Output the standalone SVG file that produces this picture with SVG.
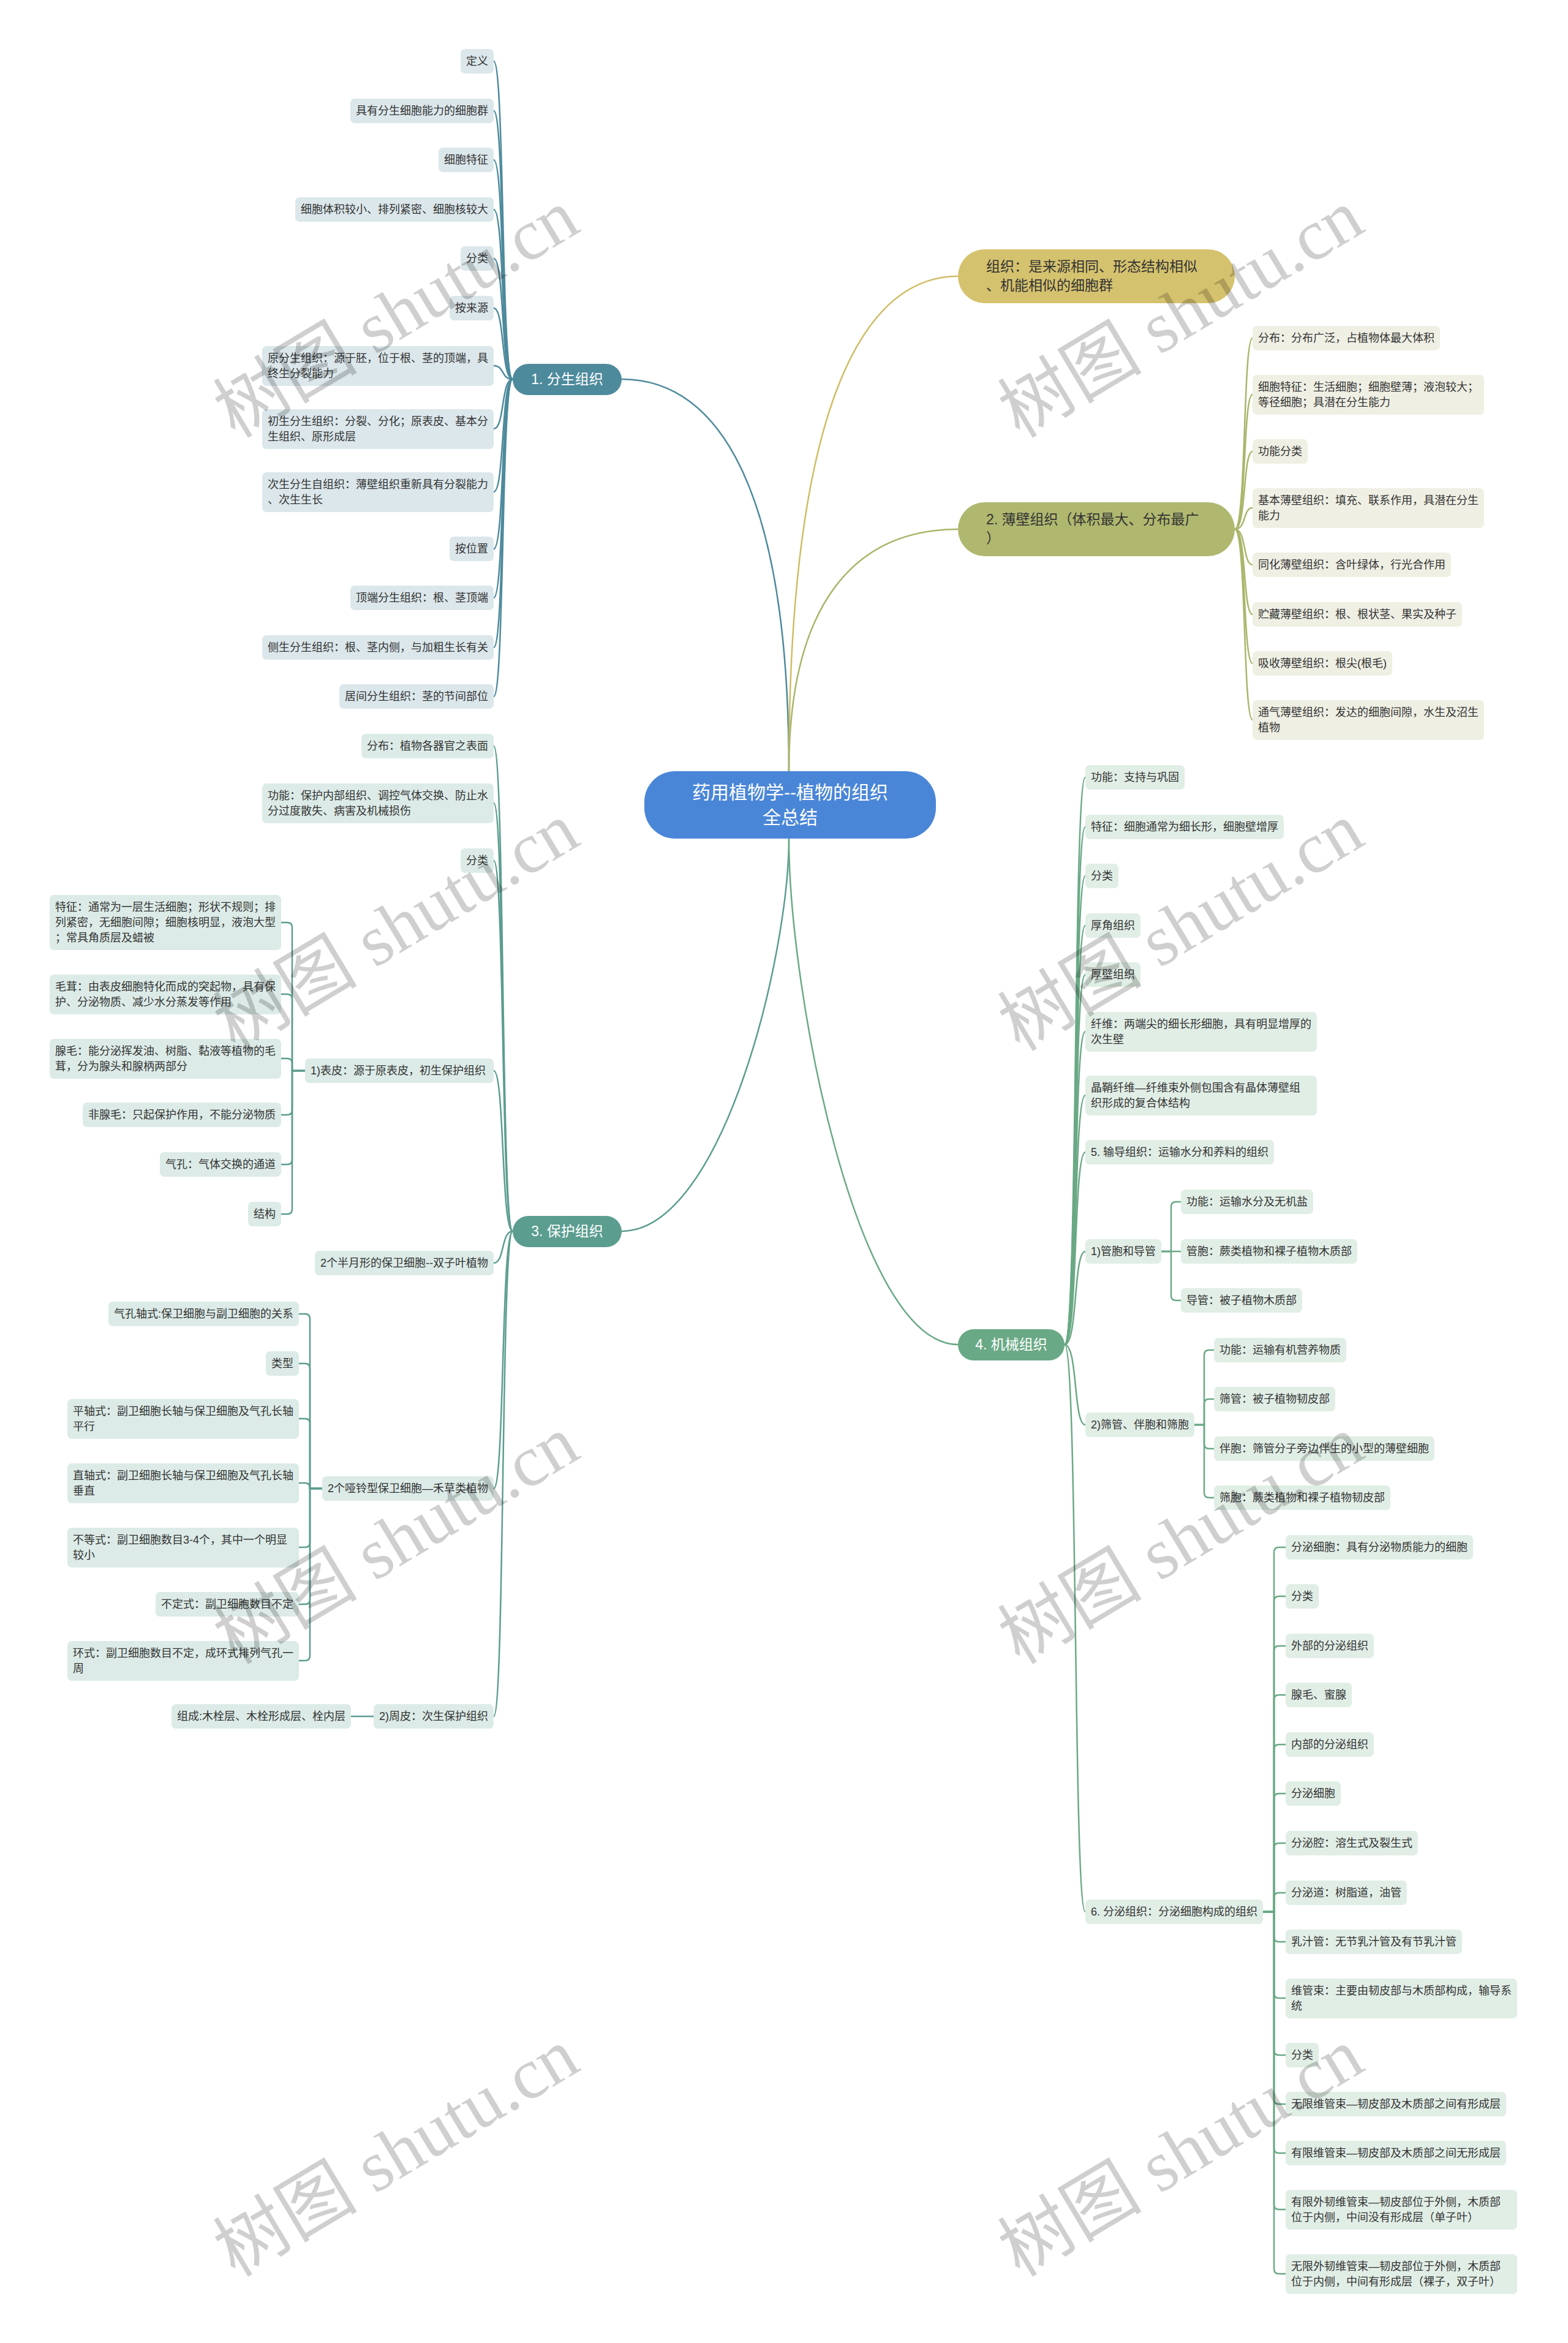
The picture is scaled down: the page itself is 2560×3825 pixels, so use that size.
<svg xmlns="http://www.w3.org/2000/svg" width="2560" height="3825" viewBox="0 0 2560 3825">
<style>
.t{font-family:"Liberation Sans","Noto Sans CJK SC",sans-serif;font-size:18px;fill:#333}
.m{font-family:"Liberation Sans","Noto Sans CJK SC",sans-serif;font-size:23px}
.c1{fill:#dbe7eb}.c2{fill:#efefe4}.c3{fill:#dcebe7}.c4{fill:#e1eee6}
.l1{stroke:#4d8a9c}.l2{stroke:#aab56a}.lg{stroke:#cfbd65}.l3{stroke:#5b9d8f}.l4{stroke:#6aa985}
#connectors path{fill:none;stroke-width:2.5}
.wm{font-family:"Liberation Serif","Noto Sans CJK SC",serif;font-size:118px;fill:#000;fill-opacity:0.19}
</style>
<rect width="2560" height="3825" fill="#fff"/>
<g id="connectors">
<path class="l1" stroke-width="3" d="M1288 1259 C1288 811 1179 619 1015 619"/>
<path class="lg" stroke-width="3" d="M1288 1259 C1288 693 1398 451 1564 451"/>
<path class="l2" stroke-width="3" d="M1288 1259 C1288 982 1398 864 1564 864"/>
<path class="l3" stroke-width="3" d="M1288 1369 C1288 1561 1179 2010 1015 2010"/>
<path class="l4" stroke-width="3" d="M1288 1369 C1288 1617 1398 2195 1564 2195"/>
<path class="l1" d="M837 619 C818 619 824 100 806 100"/>
<path class="l1" d="M837 619 C818 619 824 181 806 181"/>
<path class="l1" d="M837 619 C818 619 824 261 806 261"/>
<path class="l1" d="M837 619 C818 619 824 342 806 342"/>
<path class="l1" d="M837 619 C818 619 824 422 806 422"/>
<path class="l1" d="M837 619 C818 619 824 503 806 503"/>
<path class="l1" d="M837 619 C818 619 824 597 806 597"/>
<path class="l1" d="M837 619 C818 619 824 700 806 700"/>
<path class="l1" d="M837 619 C818 619 824 803 806 803"/>
<path class="l1" d="M837 619 C818 619 824 896 806 896"/>
<path class="l1" d="M837 619 C818 619 824 976 806 976"/>
<path class="l1" d="M837 619 C818 619 824 1057 806 1057"/>
<path class="l1" d="M837 619 C818 619 824 1137 806 1137"/>
<path class="l3" d="M837 2010 C818 2010 824 1218 806 1218"/>
<path class="l3" d="M837 2010 C818 2010 824 1311 806 1311"/>
<path class="l3" d="M837 2010 C818 2010 824 1405 806 1405"/>
<path class="l3" d="M837 2010 C818 2010 824 1748 806 1748"/>
<path class="l3" d="M837 2010 C818 2010 824 2062 806 2062"/>
<path class="l3" d="M837 2010 C818 2010 824 2430 806 2430"/>
<path class="l3" d="M837 2010 C818 2010 824 2802 806 2802"/>
<path class="l3" d="M498 1748 H477 V1514 Q477 1506 469 1506 H459"/>
<path class="l3" d="M498 1748 H477 V1631 Q477 1623 469 1623 H459"/>
<path class="l3" d="M498 1748 H477 V1736 Q477 1728 469 1728 H459"/>
<path class="l3" d="M498 1748 H477 V1812 Q477 1820 469 1820 H459"/>
<path class="l3" d="M498 1748 H477 V1893 Q477 1901 469 1901 H459"/>
<path class="l3" d="M498 1748 H477 V1974 Q477 1982 469 1982 H459"/>
<path class="l3" d="M526 2430 H506 V2153 Q506 2145 498 2145 H488"/>
<path class="l3" d="M526 2430 H506 V2234 Q506 2226 498 2226 H488"/>
<path class="l3" d="M526 2430 H506 V2324 Q506 2316 498 2316 H488"/>
<path class="l3" d="M526 2430 H506 V2429 Q506 2421 498 2421 H488"/>
<path class="l3" d="M526 2430 H506 V2518 Q506 2526 498 2526 H488"/>
<path class="l3" d="M526 2430 H506 V2611 Q506 2619 498 2619 H488"/>
<path class="l3" d="M526 2430 H506 V2703 Q506 2711 498 2711 H488"/>
<path class="l3" d="M610 2802 H573"/>
<path class="l2" d="M2016 864 C2035 864 2029 552 2045 552"/>
<path class="l2" d="M2016 864 C2035 864 2029 644 2045 644"/>
<path class="l2" d="M2016 864 C2035 864 2029 737 2045 737"/>
<path class="l2" d="M2016 864 C2035 864 2029 829 2045 829"/>
<path class="l2" d="M2016 864 C2035 864 2029 922 2045 922"/>
<path class="l2" d="M2016 864 C2035 864 2029 1003 2045 1003"/>
<path class="l2" d="M2016 864 C2035 864 2029 1083 2045 1083"/>
<path class="l2" d="M2016 864 C2035 864 2029 1175 2045 1175"/>
<path class="l4" d="M1738 2195 C1760 2195 1752 1269 1772 1269"/>
<path class="l4" d="M1738 2195 C1760 2195 1752 1350 1772 1350"/>
<path class="l4" d="M1738 2195 C1760 2195 1752 1430 1772 1430"/>
<path class="l4" d="M1738 2195 C1760 2195 1752 1511 1772 1511"/>
<path class="l4" d="M1738 2195 C1760 2195 1752 1591 1772 1591"/>
<path class="l4" d="M1738 2195 C1760 2195 1752 1684 1772 1684"/>
<path class="l4" d="M1738 2195 C1760 2195 1752 1788 1772 1788"/>
<path class="l4" d="M1738 2195 C1760 2195 1752 1881 1772 1881"/>
<path class="l4" d="M1738 2195 C1760 2195 1752 2043 1772 2043"/>
<path class="l4" d="M1738 2195 C1760 2195 1752 2326 1772 2326"/>
<path class="l4" d="M1738 2195 C1760 2195 1752 3121 1772 3121"/>
<path class="l4" d="M1896 2043 H1912 V1970 Q1912 1962 1920 1962 H1928"/>
<path class="l4" d="M1896 2043 H1928"/>
<path class="l4" d="M1896 2043 H1912 V2115 Q1912 2123 1920 2123 H1928"/>
<path class="l4" d="M1950 2326 H1966 V2212 Q1966 2204 1974 2204 H1982"/>
<path class="l4" d="M1950 2326 H1966 V2292 Q1966 2284 1974 2284 H1982"/>
<path class="l4" d="M1950 2326 H1966 V2357 Q1966 2365 1974 2365 H1982"/>
<path class="l4" d="M1950 2326 H1966 V2437 Q1966 2445 1974 2445 H1982"/>
<path class="l4" d="M2062 3121 H2080 V2534 Q2080 2526 2088 2526 H2099"/>
<path class="l4" d="M2062 3121 H2080 V2614 Q2080 2606 2088 2606 H2099"/>
<path class="l4" d="M2062 3121 H2080 V2695 Q2080 2687 2088 2687 H2099"/>
<path class="l4" d="M2062 3121 H2080 V2775 Q2080 2767 2088 2767 H2099"/>
<path class="l4" d="M2062 3121 H2080 V2856 Q2080 2848 2088 2848 H2099"/>
<path class="l4" d="M2062 3121 H2080 V2936 Q2080 2928 2088 2928 H2099"/>
<path class="l4" d="M2062 3121 H2080 V3017 Q2080 3009 2088 3009 H2099"/>
<path class="l4" d="M2062 3121 H2080 V3098 Q2080 3090 2088 3090 H2099"/>
<path class="l4" d="M2062 3121 H2080 V3162 Q2080 3170 2088 3170 H2099"/>
<path class="l4" d="M2062 3121 H2080 V3254 Q2080 3262 2088 3262 H2099"/>
<path class="l4" d="M2062 3121 H2080 V3347 Q2080 3355 2088 3355 H2099"/>
<path class="l4" d="M2062 3121 H2080 V3427 Q2080 3435 2088 3435 H2099"/>
<path class="l4" d="M2062 3121 H2080 V3507 Q2080 3515 2088 3515 H2099"/>
<path class="l4" d="M2062 3121 H2080 V3599 Q2080 3607 2088 3607 H2099"/>
<path class="l4" d="M2062 3121 H2080 V3704 Q2080 3712 2088 3712 H2099"/>
</g>
<g id="root"><rect x="1052" y="1259" width="476" height="110" rx="50" fill="#4a86d8"/><text class="m" x="1290" y="1304" text-anchor="middle" fill="#fff" style="font-size:30px">药用植物学--植物的组织</text><text class="m" x="1290" y="1345" text-anchor="middle" fill="#fff" style="font-size:30px">全总结</text></g>
<g id="b1"><rect x="837" y="594" width="178" height="51" rx="25.5" fill="#4d8a9c"/><text class="m" x="926" y="627" text-anchor="middle" fill="#fff">1. 分生组织</text></g>
<g id="bg"><rect x="1564" y="407" width="452" height="88" rx="44" fill="#d5c26e"/><text class="m" x="1610" y="443" fill="#333">组织：是来源相同、形态结构相似</text><text class="m" x="1610" y="474" fill="#333">、机能相似的细胞群</text></g>
<g id="b2"><rect x="1564" y="820" width="452" height="88" rx="44" fill="#b0b86f"/><text class="m" x="1610" y="856" fill="#333">2. 薄壁组织（体积最大、分布最广</text><text class="m" x="1610" y="887" fill="#333">）</text></g>
<g id="b3"><rect x="837" y="1985" width="178" height="51" rx="25.5" fill="#5b9d8f"/><text class="m" x="926" y="2018" text-anchor="middle" fill="#fff">3. 保护组织</text></g>
<g id="b4"><rect x="1564" y="2170" width="174" height="51" rx="25.5" fill="#6aa985"/><text class="m" x="1651" y="2203" text-anchor="middle" fill="#fff">4. 机械组织</text></g>

<g id="n1-1"><rect class="c1" x="752" y="80" width="54" height="40" rx="7"/><text class="t" x="761" y="106">定义</text></g>
<g id="n1-2"><rect class="c1" x="572" y="161" width="234" height="40" rx="7"/><text class="t" x="581" y="187">具有分生细胞能力的细胞群</text></g>
<g id="n1-3"><rect class="c1" x="716" y="241" width="90" height="40" rx="7"/><text class="t" x="725" y="267">细胞特征</text></g>
<g id="n1-4"><rect class="c1" x="482" y="322" width="324" height="40" rx="7"/><text class="t" x="491" y="348">细胞体积较小、排列紧密、细胞核较大</text></g>
<g id="n1-5"><rect class="c1" x="752" y="402" width="54" height="40" rx="7"/><text class="t" x="761" y="428">分类</text></g>
<g id="n1-6"><rect class="c1" x="734" y="483" width="72" height="40" rx="7"/><text class="t" x="743" y="509">按来源</text></g>
<g id="n1-7"><rect class="c1" x="428" y="565" width="378" height="65" rx="7"/><text class="t" x="437" y="591">原分生组织：源于胚，位于根、茎的顶端，具</text><text class="t" x="437" y="616">终生分裂能力</text></g>
<g id="n1-8"><rect class="c1" x="428" y="668" width="378" height="65" rx="7"/><text class="t" x="437" y="694">初生分生组织：分裂、分化；原表皮、基本分</text><text class="t" x="437" y="719">生组织、原形成层</text></g>
<g id="n1-9"><rect class="c1" x="428" y="771" width="378" height="65" rx="7"/><text class="t" x="437" y="797">次生分生自组织：薄壁组织重新具有分裂能力</text><text class="t" x="437" y="822">、次生生长</text></g>
<g id="n1-10"><rect class="c1" x="734" y="876" width="72" height="40" rx="7"/><text class="t" x="743" y="902">按位置</text></g>
<g id="n1-11"><rect class="c1" x="572" y="956" width="234" height="40" rx="7"/><text class="t" x="581" y="982">顶端分生组织：根、茎顶端</text></g>
<g id="n1-12"><rect class="c1" x="428" y="1037" width="378" height="40" rx="7"/><text class="t" x="437" y="1063">侧生分生组织：根、茎内侧，与加粗生长有关</text></g>
<g id="n1-13"><rect class="c1" x="554" y="1117" width="252" height="40" rx="7"/><text class="t" x="563" y="1143">居间分生组织：茎的节间部位</text></g>

<g id="n3-1"><rect class="c3" x="590" y="1198" width="216" height="40" rx="7"/><text class="t" x="599" y="1224">分布：植物各器官之表面</text></g>
<g id="n3-2"><rect class="c3" x="428" y="1279" width="378" height="65" rx="7"/><text class="t" x="437" y="1305">功能：保护内部组织、调控气体交换、防止水</text><text class="t" x="437" y="1330">分过度散失、病害及机械损伤</text></g>
<g id="n3-3"><rect class="c3" x="752" y="1385" width="54" height="40" rx="7"/><text class="t" x="761" y="1411">分类</text></g>
<g id="n3-4"><rect class="c3" x="498" y="1728" width="308" height="40" rx="7"/><text class="t" x="507" y="1754">1)表皮：源于原表皮，初生保护组织</text></g>
<g id="n3-4-1"><rect class="c3" x="81" y="1461" width="378" height="90" rx="7"/><text class="t" x="90" y="1487">特征：通常为一层生活细胞；形状不规则；排</text><text class="t" x="90" y="1512">列紧密，无细胞间隙；细胞核明显，液泡大型</text><text class="t" x="90" y="1537">；常具角质层及蜡被</text></g>
<g id="n3-4-2"><rect class="c3" x="81" y="1591" width="378" height="65" rx="7"/><text class="t" x="90" y="1617">毛茸：由表皮细胞特化而成的突起物，具有保</text><text class="t" x="90" y="1642">护、分泌物质、减少水分蒸发等作用</text></g>
<g id="n3-4-3"><rect class="c3" x="81" y="1696" width="378" height="65" rx="7"/><text class="t" x="90" y="1722">腺毛：能分泌挥发油、树脂、黏液等植物的毛</text><text class="t" x="90" y="1747">茸，分为腺头和腺柄两部分</text></g>
<g id="n3-4-4"><rect class="c3" x="135" y="1800" width="324" height="40" rx="7"/><text class="t" x="144" y="1826">非腺毛：只起保护作用，不能分泌物质</text></g>
<g id="n3-4-5"><rect class="c3" x="261" y="1881" width="198" height="40" rx="7"/><text class="t" x="270" y="1907">气孔：气体交换的通道</text></g>
<g id="n3-4-6"><rect class="c3" x="405" y="1962" width="54" height="40" rx="7"/><text class="t" x="414" y="1988">结构</text></g>
<g id="n3-5"><rect class="c3" x="514" y="2042" width="292" height="40" rx="7"/><text class="t" x="523" y="2068">2个半月形的保卫细胞--双子叶植物</text></g>
<g id="n3-6"><rect class="c3" x="526" y="2410" width="280" height="40" rx="7"/><text class="t" x="535" y="2436">2个哑铃型保卫细胞—禾草类植物</text></g>
<g id="n3-6-1"><rect class="c3" x="177" y="2125" width="311" height="40" rx="7"/><text class="t" x="186" y="2151">气孔轴式:保卫细胞与副卫细胞的关系</text></g>
<g id="n3-6-2"><rect class="c3" x="434" y="2206" width="54" height="40" rx="7"/><text class="t" x="443" y="2232">类型</text></g>
<g id="n3-6-3"><rect class="c3" x="110" y="2284" width="378" height="65" rx="7"/><text class="t" x="119" y="2310">平轴式：副卫细胞长轴与保卫细胞及气孔长轴</text><text class="t" x="119" y="2335">平行</text></g>
<g id="n3-6-4"><rect class="c3" x="110" y="2389" width="378" height="65" rx="7"/><text class="t" x="119" y="2415">直轴式：副卫细胞长轴与保卫细胞及气孔长轴</text><text class="t" x="119" y="2440">垂直</text></g>
<g id="n3-6-5"><rect class="c3" x="110" y="2494" width="378" height="65" rx="7"/><text class="t" x="119" y="2520">不等式：副卫细胞数目3-4个，其中一个明显</text><text class="t" x="119" y="2545">较小</text></g>
<g id="n3-6-6"><rect class="c3" x="254" y="2599" width="234" height="40" rx="7"/><text class="t" x="263" y="2625">不定式：副卫细胞数目不定</text></g>
<g id="n3-6-7"><rect class="c3" x="110" y="2679" width="378" height="65" rx="7"/><text class="t" x="119" y="2705">环式：副卫细胞数目不定，成环式排列气孔一</text><text class="t" x="119" y="2730">周</text></g>
<g id="n3-7"><rect class="c3" x="610" y="2782" width="196" height="40" rx="7"/><text class="t" x="619" y="2808">2)周皮：次生保护组织</text></g>
<g id="n3-7-1"><rect class="c3" x="280" y="2782" width="293" height="40" rx="7"/><text class="t" x="289" y="2808">组成:木栓层、木栓形成层、栓内层</text></g>

<g id="n2-1"><rect class="c2" x="2045" y="532" width="306" height="40" rx="7"/><text class="t" x="2054" y="558">分布：分布广泛，占植物体最大体积</text></g>
<g id="n2-2"><rect class="c2" x="2045" y="612" width="378" height="65" rx="7"/><text class="t" x="2054" y="638">细胞特征：生活细胞；细胞壁薄；液泡较大；</text><text class="t" x="2054" y="663">等径细胞；具潜在分生能力</text></g>
<g id="n2-3"><rect class="c2" x="2045" y="717" width="90" height="40" rx="7"/><text class="t" x="2054" y="743">功能分类</text></g>
<g id="n2-4"><rect class="c2" x="2045" y="797" width="378" height="65" rx="7"/><text class="t" x="2054" y="823">基本薄壁组织：填充、联系作用，具潜在分生</text><text class="t" x="2054" y="848">能力</text></g>
<g id="n2-5"><rect class="c2" x="2045" y="902" width="324" height="40" rx="7"/><text class="t" x="2054" y="928">同化薄壁组织：含叶绿体，行光合作用</text></g>
<g id="n2-6"><rect class="c2" x="2045" y="983" width="342" height="40" rx="7"/><text class="t" x="2054" y="1009">贮藏薄壁组织：根、根状茎、果实及种子</text></g>
<g id="n2-7"><rect class="c2" x="2045" y="1063" width="228" height="40" rx="7"/><text class="t" x="2054" y="1089">吸收薄壁组织：根尖(根毛)</text></g>
<g id="n2-8"><rect class="c2" x="2045" y="1143" width="378" height="65" rx="7"/><text class="t" x="2054" y="1169">通气薄壁组织：发达的细胞间隙，水生及沼生</text><text class="t" x="2054" y="1194">植物</text></g>

<g id="n4-1"><rect class="c4" x="1772" y="1249" width="162" height="40" rx="7"/><text class="t" x="1781" y="1275">功能：支持与巩固</text></g>
<g id="n4-2"><rect class="c4" x="1772" y="1330" width="324" height="40" rx="7"/><text class="t" x="1781" y="1356">特征：细胞通常为细长形，细胞壁增厚</text></g>
<g id="n4-3"><rect class="c4" x="1772" y="1410" width="54" height="40" rx="7"/><text class="t" x="1781" y="1436">分类</text></g>
<g id="n4-4"><rect class="c4" x="1772" y="1491" width="90" height="40" rx="7"/><text class="t" x="1781" y="1517">厚角组织</text></g>
<g id="n4-5"><rect class="c4" x="1772" y="1571" width="90" height="40" rx="7"/><text class="t" x="1781" y="1597">厚壁组织</text></g>
<g id="n4-6"><rect class="c4" x="1772" y="1652" width="378" height="65" rx="7"/><text class="t" x="1781" y="1678">纤维：两端尖的细长形细胞，具有明显增厚的</text><text class="t" x="1781" y="1703">次生壁</text></g>
<g id="n4-7"><rect class="c4" x="1772" y="1756" width="378" height="65" rx="7"/><text class="t" x="1781" y="1782">晶鞘纤维—纤维束外侧包围含有晶体薄壁组</text><text class="t" x="1781" y="1807">织形成的复合体结构</text></g>
<g id="n4-8"><rect class="c4" x="1772" y="1861" width="308" height="40" rx="7"/><text class="t" x="1781" y="1887">5. 输导组织：运输水分和养料的组织</text></g>
<g id="n4-9"><rect class="c4" x="1772" y="2023" width="124" height="40" rx="7"/><text class="t" x="1781" y="2049">1)管胞和导管</text></g>
<g id="n4-9-1"><rect class="c4" x="1928" y="1942" width="216" height="40" rx="7"/><text class="t" x="1937" y="1968">功能：运输水分及无机盐</text></g>
<g id="n4-9-2"><rect class="c4" x="1928" y="2023" width="288" height="40" rx="7"/><text class="t" x="1937" y="2049">管胞：蕨类植物和裸子植物木质部</text></g>
<g id="n4-9-3"><rect class="c4" x="1928" y="2103" width="198" height="40" rx="7"/><text class="t" x="1937" y="2129">导管：被子植物木质部</text></g>
<g id="n4-10"><rect class="c4" x="1772" y="2306" width="178" height="40" rx="7"/><text class="t" x="1781" y="2332">2)筛管、伴胞和筛胞</text></g>
<g id="n4-10-1"><rect class="c4" x="1982" y="2184" width="216" height="40" rx="7"/><text class="t" x="1991" y="2210">功能：运输有机营养物质</text></g>
<g id="n4-10-2"><rect class="c4" x="1982" y="2264" width="198" height="40" rx="7"/><text class="t" x="1991" y="2290">筛管：被子植物韧皮部</text></g>
<g id="n4-10-3"><rect class="c4" x="1982" y="2345" width="360" height="40" rx="7"/><text class="t" x="1991" y="2371">伴胞：筛管分子旁边伴生的小型的薄壁细胞</text></g>
<g id="n4-10-4"><rect class="c4" x="1982" y="2425" width="288" height="40" rx="7"/><text class="t" x="1991" y="2451">筛胞：蕨类植物和裸子植物韧皮部</text></g>
<g id="n4-11"><rect class="c4" x="1772" y="3101" width="290" height="40" rx="7"/><text class="t" x="1781" y="3127">6. 分泌组织：分泌细胞构成的组织</text></g>
<g id="n4-11-1"><rect class="c4" x="2099" y="2506" width="306" height="40" rx="7"/><text class="t" x="2108" y="2532">分泌细胞：具有分泌物质能力的细胞</text></g>
<g id="n4-11-2"><rect class="c4" x="2099" y="2586" width="54" height="40" rx="7"/><text class="t" x="2108" y="2612">分类</text></g>
<g id="n4-11-3"><rect class="c4" x="2099" y="2667" width="144" height="40" rx="7"/><text class="t" x="2108" y="2693">外部的分泌组织</text></g>
<g id="n4-11-4"><rect class="c4" x="2099" y="2747" width="108" height="40" rx="7"/><text class="t" x="2108" y="2773">腺毛、蜜腺</text></g>
<g id="n4-11-5"><rect class="c4" x="2099" y="2828" width="144" height="40" rx="7"/><text class="t" x="2108" y="2854">内部的分泌组织</text></g>
<g id="n4-11-6"><rect class="c4" x="2099" y="2908" width="90" height="40" rx="7"/><text class="t" x="2108" y="2934">分泌细胞</text></g>
<g id="n4-11-7"><rect class="c4" x="2099" y="2989" width="216" height="40" rx="7"/><text class="t" x="2108" y="3015">分泌腔：溶生式及裂生式</text></g>
<g id="n4-11-8"><rect class="c4" x="2099" y="3070" width="198" height="40" rx="7"/><text class="t" x="2108" y="3096">分泌道：树脂道，油管</text></g>
<g id="n4-11-9"><rect class="c4" x="2099" y="3150" width="288" height="40" rx="7"/><text class="t" x="2108" y="3176">乳汁管：无节乳汁管及有节乳汁管</text></g>
<g id="n4-11-10"><rect class="c4" x="2099" y="3230" width="378" height="65" rx="7"/><text class="t" x="2108" y="3256">维管束：主要由韧皮部与木质部构成，输导系</text><text class="t" x="2108" y="3281">统</text></g>
<g id="n4-11-11"><rect class="c4" x="2099" y="3335" width="54" height="40" rx="7"/><text class="t" x="2108" y="3361">分类</text></g>
<g id="n4-11-12"><rect class="c4" x="2099" y="3415" width="360" height="40" rx="7"/><text class="t" x="2108" y="3441">无限维管束—韧皮部及木质部之间有形成层</text></g>
<g id="n4-11-13"><rect class="c4" x="2099" y="3495" width="360" height="40" rx="7"/><text class="t" x="2108" y="3521">有限维管束—韧皮部及木质部之间无形成层</text></g>
<g id="n4-11-14"><rect class="c4" x="2099" y="3575" width="378" height="65" rx="7"/><text class="t" x="2108" y="3601">有限外韧维管束—韧皮部位于外侧，木质部</text><text class="t" x="2108" y="3626">位于内侧，中间没有形成层（单子叶）</text></g>
<g id="n4-11-15"><rect class="c4" x="2099" y="3680" width="378" height="65" rx="7"/><text class="t" x="2108" y="3706">无限外韧维管束—韧皮部位于外侧，木质部</text><text class="t" x="2108" y="3731">位于内侧，中间有形成层（裸子，双子叶）</text></g>

<g id="watermarks">
<text class="wm" x="647" y="552" text-anchor="middle" transform="rotate(-31 647 512)">树图 shutu.cn</text>
<text class="wm" x="1928" y="552" text-anchor="middle" transform="rotate(-31 1928 512)">树图 shutu.cn</text>
<text class="wm" x="647" y="1553" text-anchor="middle" transform="rotate(-31 647 1513)">树图 shutu.cn</text>
<text class="wm" x="1928" y="1553" text-anchor="middle" transform="rotate(-31 1928 1513)">树图 shutu.cn</text>
<text class="wm" x="647" y="2554" text-anchor="middle" transform="rotate(-31 647 2514)">树图 shutu.cn</text>
<text class="wm" x="1928" y="2554" text-anchor="middle" transform="rotate(-31 1928 2514)">树图 shutu.cn</text>
<text class="wm" x="647" y="3554" text-anchor="middle" transform="rotate(-31 647 3514)">树图 shutu.cn</text>
<text class="wm" x="1928" y="3554" text-anchor="middle" transform="rotate(-31 1928 3514)">树图 shutu.cn</text>
</g>
</svg>
